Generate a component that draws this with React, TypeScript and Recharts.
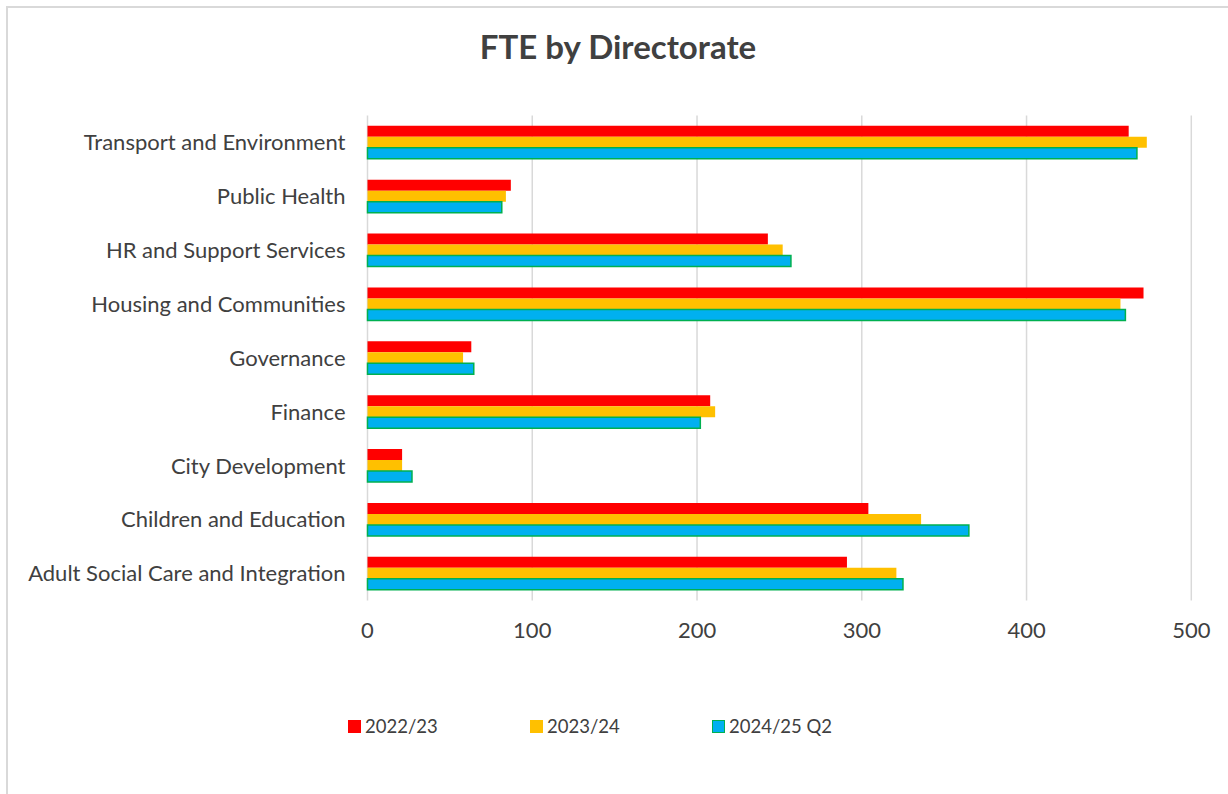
import { BarChart, Bar, XAxis, YAxis, CartesianGrid } from "recharts";

const directorates = [
  "Transport and Environment",
  "Public Health",
  "HR and Support Services",
  "Housing and Communities",
  "Governance",
  "Finance",
  "City Development",
  "Children and Education",
  "Adult Social Care and Integration",
];

const fte2022 = [462, 87, 243, 471, 63, 208, 21, 304, 291];
const fte2023 = [473, 84, 252, 457, 58, 211, 21, 336, 321];
const fte2024Q2 = [467, 81.5, 257, 460, 64.5, 202, 27, 365, 325];

const xTicks = [0, 100, 200, 300, 400, 500];

const series = [
  { key: "fy2022", label: "2022/23", fill: "#FF0000", stroke: "none" },
  { key: "fy2023", label: "2023/24", fill: "#FFC000", stroke: "none" },
  { key: "fy2024", label: "2024/25 Q2", fill: "#00B0F0", stroke: "#00B050" },
];

const data = directorates.map((name, i) => ({
  name,
  fy2022: fte2022[i],
  fy2023: fte2023[i],
  fy2024: fte2024Q2[i],
}));

const FONT = "Lato, 'Open Sans', sans-serif";
const TEXT = "#404040";

// the frame's top-left corner sits at (6,6); everything inside is shifted back
const FRAME = 6;
const BORDER = 2;
const SHIFT = -(FRAME + BORDER);

const LegendRow = () => (
  <div
    style={{
      position: "absolute",
      left: 348,
      top: 713,
      width: 600,
      height: 26,
      fontFamily: FONT,
    }}
  >
    {series.map((s, i) => (
      <div
        key={s.key}
        style={{
          position: "absolute",
          left: i * 182,
          top: 0,
          height: 26,
          display: "flex",
          alignItems: "center",
          fontSize: 18.5,
          lineHeight: "26px",
          color: TEXT,
          whiteSpace: "nowrap",
        }}
      >
        <span
          style={{
            display: "inline-block",
            boxSizing: "border-box",
            width: 13,
            height: 13,
            background: s.fill,
            border: s.stroke === "none" ? "none" : `1.5px solid ${s.stroke}`,
            marginRight: 4,
          }}
        />
        {s.label}
      </div>
    ))}
  </div>
);

export default function App() {
  return (
    <div
      style={{
        position: "fixed",
        left: 0,
        top: 0,
        width: 1228,
        height: 794,
        background: "#fff",
        overflow: "hidden",
      }}
    >
      <div
        style={{
          position: "absolute",
          left: FRAME,
          top: FRAME,
          width: 1300,
          height: 900,
          boxSizing: "border-box",
          borderLeft: `${BORDER}px solid #D9D9D9`,
          borderTop: `${BORDER}px solid #D9D9D9`,
        }}
      >
        <div
          style={{
            position: "absolute",
            left: SHIFT,
            width: 1236,
            top: 27 + SHIFT,
            textAlign: "center",
            fontFamily: FONT,
            fontWeight: 700,
            fontSize: 33,
            lineHeight: 1.2,
            color: TEXT,
          }}
        >
          FTE by Directorate
        </div>
        <div style={{ position: "absolute", left: SHIFT, top: SHIFT }}>
          <BarChart
            width={1228}
            height={794}
            data={data}
            layout="vertical"
            margin={{ top: 115.5, right: 36.7, bottom: 153.5, left: 0 }}
            barCategoryGap="19%"
            barGap={0}
          >
            <CartesianGrid
              horizontal={false}
              vertical={true}
              stroke="#D9D9D9"
              strokeWidth={1.5}
            />
            <XAxis
              type="number"
              domain={[0, 500]}
              ticks={xTicks}
              axisLine={false}
              tickLine={false}
              tickSize={0}
              tickMargin={22}
              height={40}
              tick={{ fill: TEXT, fontSize: 22, fontFamily: FONT }}
            />
            <YAxis
              type="category"
              dataKey="name"
              width={367.5}
              axisLine={false}
              tickLine={false}
              tickSize={0}
              tickMargin={22}
              interval={0}
              tick={{ fill: TEXT, fontSize: 22, fontFamily: FONT }}
            />
            {series.map((s) => (
              <Bar
                key={s.key}
                dataKey={s.key}
                name={s.label}
                fill={s.fill}
                stroke={s.stroke}
                strokeWidth={s.stroke === "none" ? 0 : 1.5}
                isAnimationActive={false}
              />
            ))}
          </BarChart>
        </div>
        <div style={{ position: "absolute", left: SHIFT, top: SHIFT }}>
          <LegendRow />
        </div>
      </div>
    </div>
  );
}
